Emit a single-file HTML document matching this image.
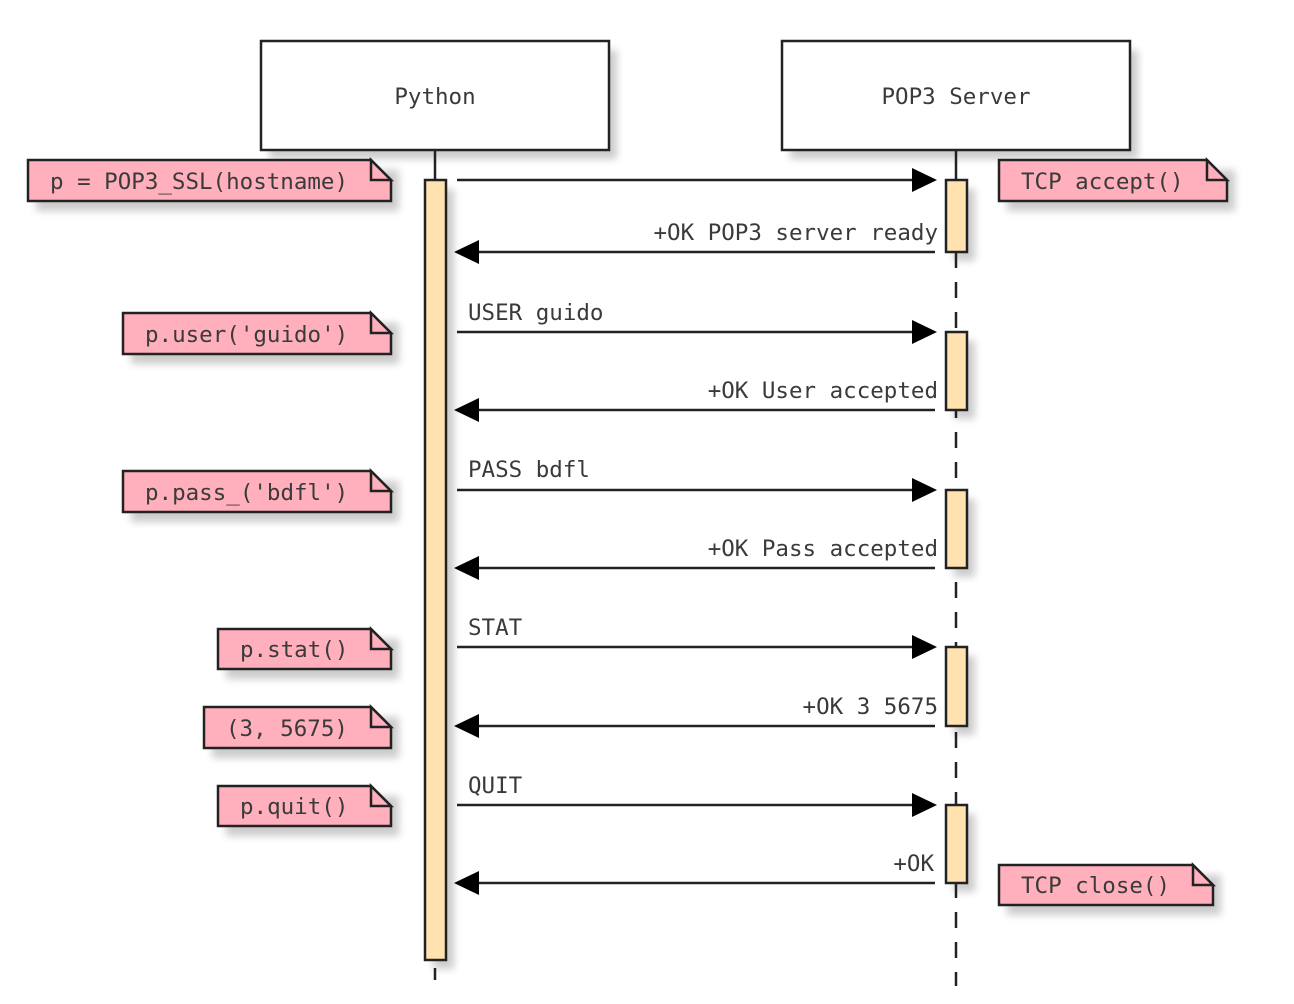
<!DOCTYPE html>
<html><head><meta charset="utf-8"><style>
html,body{margin:0;padding:0;background:#fff;}
svg{display:block;}
text{font-family:"DejaVu Sans Mono","Liberation Mono",monospace;font-size:22.5px;fill:#3a3a3a;}
</style></head><body>
<svg width="1294" height="1004" viewBox="0 0 1294 1004" xmlns="http://www.w3.org/2000/svg">
<defs>
<filter id="sh" x="-10%" y="-30%" width="130%" height="180%">
<feGaussianBlur stdDeviation="4"/>
</filter>
</defs>
<g fill="#000" opacity="0.2" filter="url(#sh)">
<rect x="269" y="50" width="348" height="109"/>
<rect x="790" y="50" width="348" height="109"/>
<rect x="433" y="189" width="21" height="780"/>
<rect x="36" y="170" width="363" height="41"/>
<rect x="131" y="323" width="268" height="41"/>
<rect x="131" y="481" width="268" height="41"/>
<rect x="226" y="639" width="173" height="40"/>
<rect x="212" y="717" width="187" height="41"/>
<rect x="226" y="796" width="173" height="40"/>
<rect x="1007" y="170" width="228" height="41"/>
<rect x="1007" y="875" width="214" height="40"/>
<rect x="954" y="189" width="21" height="72"/><rect x="954" y="341" width="21" height="78"/><rect x="954" y="499" width="21" height="78"/><rect x="954" y="656" width="21" height="79"/><rect x="954" y="814" width="21" height="78"/>
</g>
<rect x="261" y="41" width="348" height="109" fill="#fff" stroke="#222" stroke-width="2.5"/>
<rect x="782" y="41" width="348" height="109" fill="#fff" stroke="#222" stroke-width="2.5"/>
<text x="435" y="104" text-anchor="middle">Python</text>
<text x="956" y="104" text-anchor="middle">POP3 Server</text>
<g stroke="#222" stroke-width="2.5">
<line x1="435" y1="150" x2="435" y2="180"/>
<line x1="435" y1="960" x2="435" y2="986" stroke-dasharray="12,12" stroke-dashoffset="-8"/>
<line x1="956" y1="150" x2="956" y2="180"/>
<line x1="956" y1="252" x2="956" y2="986" stroke-dasharray="16,14"/>
</g>
<g fill="#ffe2b0" stroke="#222" stroke-width="2.5">
<rect x="425" y="180" width="21" height="780"/>
<rect x="946" y="180" width="21" height="72"/>
<rect x="946" y="332" width="21" height="78"/>
<rect x="946" y="490" width="21" height="78"/>
<rect x="946" y="647" width="21" height="79"/>
<rect x="946" y="805" width="21" height="78"/>
</g>
<g stroke="#222" stroke-width="2.5">
<line x1="457" y1="180" x2="915" y2="180"/>
<line x1="476" y1="252" x2="935" y2="252"/>
<line x1="457" y1="332" x2="915" y2="332"/>
<line x1="476" y1="410" x2="935" y2="410"/>
<line x1="457" y1="490" x2="915" y2="490"/>
<line x1="476" y1="568" x2="935" y2="568"/>
<line x1="457" y1="647" x2="915" y2="647"/>
<line x1="476" y1="726" x2="935" y2="726"/>
<line x1="457" y1="805" x2="915" y2="805"/>
<line x1="476" y1="883" x2="935" y2="883"/>
</g>
<g fill="#000">
<polygon points="937,180 912,168 912,192"/>
<polygon points="937,332 912,320 912,344"/>
<polygon points="937,490 912,478 912,502"/>
<polygon points="937,647 912,635 912,659"/>
<polygon points="937,805 912,793 912,817"/>
<polygon points="454,252 479,240 479,264"/>
<polygon points="454,410 479,398 479,422"/>
<polygon points="454,568 479,556 479,580"/>
<polygon points="454,726 479,714 479,738"/>
<polygon points="454,883 479,871 479,895"/>
</g>
<text x="938" y="240" text-anchor="end">+OK POP3 server ready</text>
<text x="468" y="320">USER guido</text>
<text x="938" y="398" text-anchor="end">+OK User accepted</text>
<text x="468" y="477">PASS bdfl</text>
<text x="938" y="556" text-anchor="end">+OK Pass accepted</text>
<text x="468" y="635">STAT</text>
<text x="938" y="714" text-anchor="end">+OK 3 5675</text>
<text x="468" y="793">QUIT</text>
<text x="934" y="871" text-anchor="end">+OK</text>
<g fill="#ffb0bc" stroke="#222" stroke-width="2.5" stroke-linejoin="miter">
<path d="M28,160 H371 L391,180 V201 H28 Z" /><path d="M371,160 V180 H391 Z" />
<path d="M123,313 H371 L391,333 V354 H123 Z" /><path d="M371,313 V333 H391 Z" />
<path d="M123,471 H371 L391,491 V512 H123 Z" /><path d="M371,471 V491 H391 Z" />
<path d="M218,629 H371 L391,649 V669 H218 Z" /><path d="M371,629 V649 H391 Z" />
<path d="M204,707 H371 L391,727 V748 H204 Z" /><path d="M371,707 V727 H391 Z" />
<path d="M218,786 H371 L391,806 V826 H218 Z" /><path d="M371,786 V806 H391 Z" />
<path d="M999,160 H1207 L1227,180 V201 H999 Z" /><path d="M1207,160 V180 H1227 Z" />
<path d="M999,865 H1193 L1213,885 V905 H999 Z" /><path d="M1193,865 V885 H1213 Z" />
</g>
<text x="50" y="189">p = POP3_SSL(hostname)</text>
<text x="145" y="342">p.user('guido')</text>
<text x="145" y="500">p.pass_('bdfl')</text>
<text x="240" y="657">p.stat()</text>
<text x="226" y="736">(3, 5675)</text>
<text x="240" y="814">p.quit()</text>
<text x="1021" y="189">TCP accept()</text>
<text x="1021" y="893">TCP close()</text>
</svg>
</body></html>
